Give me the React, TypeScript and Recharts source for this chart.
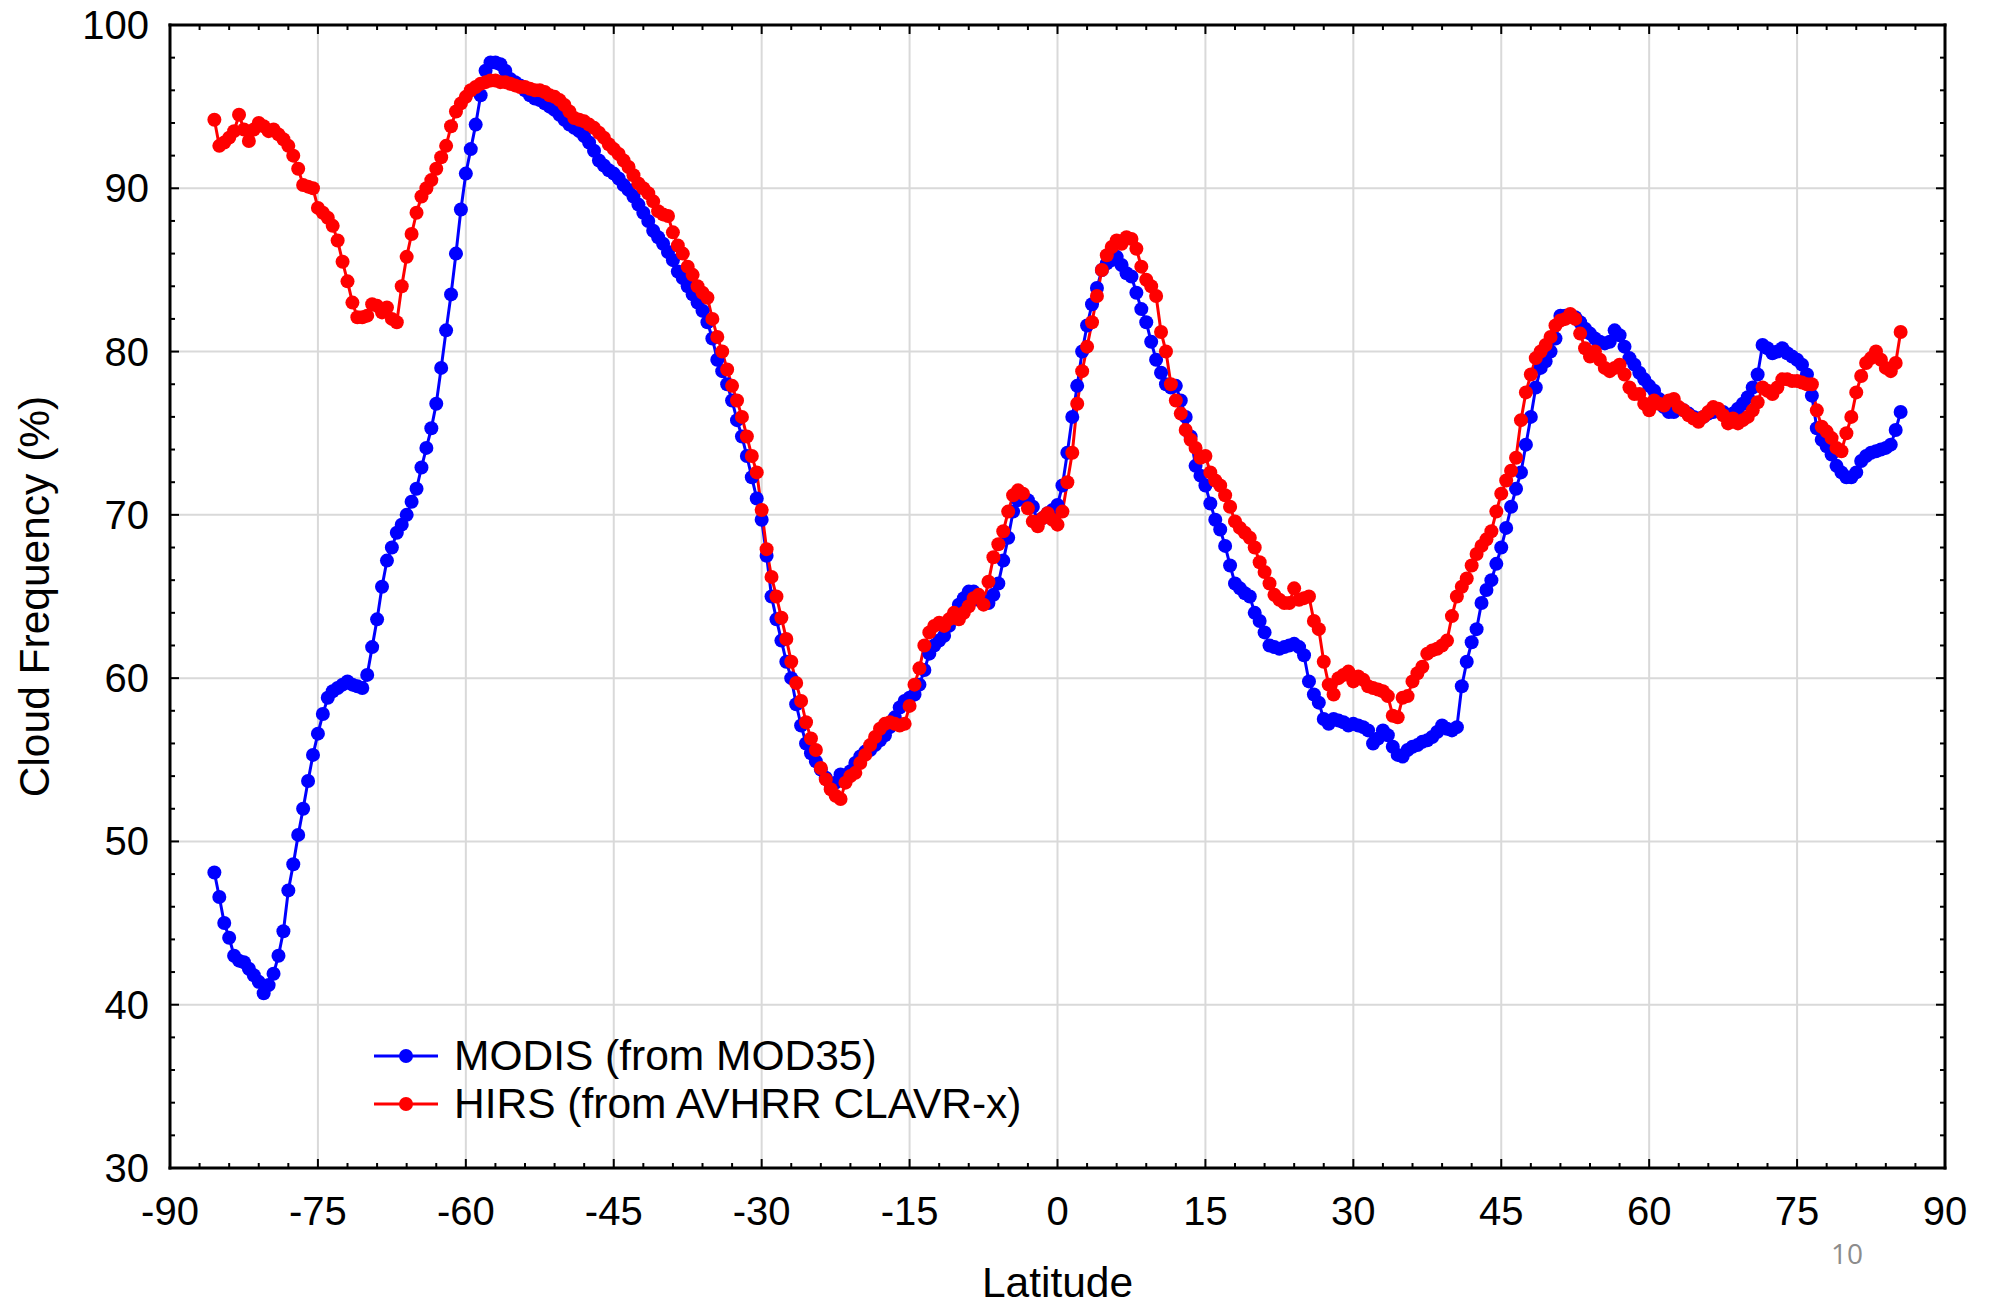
import React from "react";
import { LineChart, Line, XAxis, YAxis, CartesianGrid, Legend, Label } from "recharts";

// latitude grid of the zonal means: -85.5 .. 85.5 every half degree
const LAT_START = -85.5;
const LAT_STEP = 0.5;

// MODIS (from MOD35) cloud frequency, %, 10 values per row (5 deg)
const MODIS = [
  48.1, 46.6, 45.0, 44.1, 43.0, 42.7, 42.6, 42.2, 41.8, 41.4, // -85.5
  40.7, 41.2, 41.9, 43.0, 44.5, 47.0, 48.6, 50.4, 52.0, 53.7, // -80.5
  55.3, 56.6, 57.8, 58.8, 59.2, 59.4, 59.6, 59.8, 59.6, 59.5, // -75.5
  59.4, 60.2, 61.9, 63.6, 65.6, 67.2, 68.0, 68.9, 69.4, 70.0, // -70.5
  70.8, 71.6, 72.9, 74.1, 75.3, 76.8, 79.0, 81.3, 83.5, 86.0, // -65.5
  88.7, 90.9, 92.4, 93.9, 95.7, 97.2, 97.7, 97.7, 97.6, 97.2, // -60.5
  96.7, 96.5, 96.3, 96.0, 95.7, 95.5, 95.4, 95.2, 95.0, 94.8, // -55.5
  94.5, 94.2, 93.9, 93.7, 93.5, 93.2, 92.8, 92.3, 91.7, 91.4, // -50.5
  91.1, 90.9, 90.6, 90.2, 89.9, 89.5, 89.0, 88.5, 88.0, 87.4, // -45.5
  87.0, 86.6, 86.1, 85.6, 84.9, 84.5, 84.0, 83.5, 83.0, 82.5, // -40.5
  81.8, 80.8, 79.5, 78.8, 78.0, 77.0, 75.8, 74.8, 73.6, 72.3, // -35.5
  71.0, 69.7, 67.5, 65.0, 63.6, 62.3, 61.0, 60.0, 58.4, 57.1, // -30.5
  56.0, 55.4, 54.9, 54.4, 53.9, 53.5, 53.6, 54.1, 53.7, 54.3, // -25.5
  54.8, 55.2, 55.5, 55.6, 55.9, 56.2, 56.5, 57.0, 57.6, 58.2, // -20.5
  58.6, 58.8, 59.0, 59.6, 60.5, 61.5, 62.0, 62.3, 62.6, 63.2, // -15.5
  63.8, 64.5, 64.9, 65.3, 65.3, 64.8, 64.7, 64.6, 65.1, 65.8, // -10.5
  67.2, 68.6, 70.2, 70.9, 71.1, 70.9, 70.5, 69.6, 69.8, 70.1, // -5.5
  70.3, 70.6, 71.8, 73.8, 76.0, 77.9, 80.0, 81.6, 82.9, 83.9, // -0.5
  85.0, 85.4, 85.6, 85.8, 85.3, 84.8, 84.6, 83.6, 82.6, 81.8, // 4.5
  80.6, 79.5, 78.7, 78.0, 77.8, 77.9, 77.0, 76.0, 74.8, 73.0, // 9.5
  72.4, 71.8, 70.7, 69.7, 69.1, 68.1, 66.9, 65.8, 65.5, 65.2, // 14.5
  65.0, 64.0, 63.5, 62.8, 62.0, 61.9, 61.8, 61.9, 62.0, 62.1, // 19.5
  61.9, 61.4, 59.8, 59.0, 58.5, 57.5, 57.2, 57.5, 57.4, 57.3, // 24.5
  57.1, 57.2, 57.1, 57.0, 56.8, 56.0, 56.3, 56.8, 56.5, 55.8, // 29.5
  55.3, 55.2, 55.6, 55.8, 55.9, 56.1, 56.2, 56.4, 56.7, 57.1, // 34.5
  56.9, 56.8, 57.0, 59.5, 61.0, 62.2, 63.0, 64.6, 65.4, 66.0, // 39.5
  67.0, 68.0, 69.2, 70.5, 71.6, 72.6, 74.3, 76.0, 77.8, 79.0, // 44.5
  79.4, 80.0, 80.8, 82.2, 82.2, 82.2, 82.1, 81.8, 81.4, 81.1, // 49.5
  80.8, 80.6, 80.5, 80.6, 81.3, 81.0, 80.3, 79.6, 79.2, 78.7, // 54.5
  78.3, 77.9, 77.6, 77.1, 76.6, 76.3, 76.3, 76.5, 76.4, 76.2, // 59.5
  76.0, 75.9, 76.0, 76.2, 76.3, 76.4, 76.3, 76.0, 76.2, 76.5, // 64.5
  76.8, 77.2, 77.8, 78.6, 80.4, 80.2, 79.9, 80.0, 80.2, 79.9, // 69.5
  79.7, 79.5, 79.2, 78.6, 77.3, 75.3, 74.6, 74.2, 73.7, 73.0, // 74.5
  72.6, 72.3, 72.3, 72.6, 73.3, 73.6, 73.8, 73.9, 74.0, 74.1, // 79.5
  74.3, 75.2, 76.3, // 84.5
];

// HIRS (from AVHRR CLAVR-x) cloud frequency, %
const HIRS = [
  94.2, 92.6, 92.8, 93.1, 93.5, 94.5, 93.6, 92.9, 93.6, 94.0, // -85.5
  93.8, 93.5, 93.6, 93.3, 93.0, 92.6, 92.0, 91.2, 90.2, 90.1, // -80.5
  90.0, 88.8, 88.5, 88.2, 87.7, 86.8, 85.5, 84.3, 83.0, 82.1, // -75.5
  82.1, 82.2, 82.9, 82.8, 82.4, 82.7, 82.0, 81.8, 84.0, 85.8, // -70.5
  87.2, 88.5, 89.5, 90.0, 90.5, 91.2, 91.9, 92.6, 93.8, 94.7, // -65.5
  95.2, 95.6, 96.0, 96.2, 96.4, 96.5, 96.6, 96.6, 96.5, 96.5, // -60.5
  96.4, 96.3, 96.2, 96.2, 96.1, 96.0, 96.0, 95.9, 95.7, 95.6, // -55.5
  95.4, 95.1, 94.7, 94.3, 94.2, 94.1, 93.9, 93.7, 93.4, 93.1, // -50.5
  92.7, 92.4, 92.1, 91.7, 91.3, 90.8, 90.3, 90.0, 89.7, 89.2, // -45.5
  88.6, 88.4, 88.3, 87.3, 86.5, 86.0, 85.2, 84.7, 84.0, 83.6, // -40.5
  83.3, 82.0, 80.9, 80.0, 78.9, 77.9, 77.0, 76.0, 74.8, 73.6, // -35.5
  72.6, 70.3, 67.9, 66.2, 65.0, 63.7, 62.4, 61.0, 59.7, 58.6, // -30.5
  57.3, 56.3, 55.6, 54.5, 53.8, 53.2, 52.8, 52.6, 53.6, 54.0, // -25.5
  54.2, 54.8, 55.3, 55.9, 56.4, 56.9, 57.2, 57.3, 57.2, 57.1, // -20.5
  57.2, 58.3, 59.6, 60.6, 62.0, 62.8, 63.2, 63.4, 63.2, 63.6, // -15.5
  64.0, 63.6, 64.0, 64.4, 64.9, 65.1, 64.5, 65.9, 67.4, 68.2, // -10.5
  69.0, 70.2, 71.2, 71.5, 71.3, 70.4, 69.6, 69.3, 69.8, 70.1, // -5.5
  69.7, 69.4, 70.2, 72.0, 73.8, 76.8, 78.8, 80.3, 81.8, 83.4, // -0.5
  85.0, 85.9, 86.4, 86.8, 86.6, 87.0, 86.9, 86.3, 85.2, 84.4, // 4.5
  84.0, 83.4, 81.2, 80.0, 78.0, 77.0, 76.2, 75.2, 74.6, 74.1, // 9.5
  73.5, 73.6, 72.6, 72.1, 71.8, 71.2, 70.5, 69.6, 69.2, 68.9, // 14.5
  68.6, 68.0, 67.1, 66.5, 65.8, 65.1, 64.8, 64.6, 64.6, 65.5, // 19.5
  64.8, 64.9, 65.0, 63.5, 63.0, 61.0, 59.6, 59.0, 60.0, 60.2, // 24.5
  60.4, 59.8, 60.1, 59.9, 59.5, 59.4, 59.3, 59.2, 58.9, 57.7, // 29.5
  57.6, 58.8, 58.9, 59.8, 60.3, 60.7, 61.5, 61.7, 61.8, 62.0, // 34.5
  62.3, 63.8, 65.0, 65.6, 66.1, 66.9, 67.6, 68.1, 68.5, 69.0, // 39.5
  70.2, 71.3, 72.1, 72.7, 73.5, 75.8, 77.5, 78.6, 79.6, 80.0, // 44.5
  80.4, 80.9, 81.6, 81.9, 82.0, 82.3, 82.0, 81.1, 80.2, 79.7, // 49.5
  80.0, 79.5, 79.0, 78.8, 79.0, 79.2, 78.6, 77.8, 77.4, 77.4, // 54.5
  76.8, 76.4, 77.0, 76.8, 76.7, 77.0, 77.1, 76.6, 76.4, 76.1, // 59.5
  75.9, 75.7, 76.0, 76.3, 76.6, 76.5, 76.1, 75.6, 75.9, 75.6, // 64.5
  75.8, 76.0, 76.4, 76.9, 77.8, 77.6, 77.4, 77.8, 78.3, 78.3, // 69.5
  78.2, 78.2, 78.1, 78.0, 78.0, 76.4, 75.4, 75.1, 74.7, 74.1, // 74.5
  73.9, 75.0, 76.0, 77.5, 78.5, 79.3, 79.6, 80.0, 79.5, 79.0, // 79.5
  78.8, 79.3, 81.2, // 84.5
];

const X_MAJOR = [-90, -75, -60, -45, -30, -15, 0, 15, 30, 45, 60, 75, 90];
const Y_MAJOR = [30, 40, 50, 60, 70, 80, 90, 100];
// minor ticks: every 3 deg on x, every 2 % on y
const X_TICKS = Array.from({ length: 61 }, (_, i) => -90 + 3 * i);
const Y_TICKS = Array.from({ length: 36 }, (_, i) => 30 + 2 * i);

const SERIES_NAMES = ["MODIS (from MOD35)", "HIRS (from AVHRR CLAVR-x)"];

const FONT = "'Liberation Sans', Arial, Helvetica, sans-serif";
const BLUE = "#0000ff";
const RED = "#ff0000";

const data = MODIS.map((m, i) => ({
  lat: LAT_START + i * LAT_STEP,
  modis: m,
  hirs: HIRS[i],
}));

const isXMajor = (v: number) => v % 15 === 0;
const isYMajor = (v: number) => v % 10 === 0;

const BottomTick = ({ x, y, payload }: any) => {
  const major = isXMajor(payload.value);
  return (
    <g>
      <line x1={x} y1={y} x2={x} y2={y - (major ? 9 : 5)} stroke="#000" strokeWidth={2} />
      {major && (
        <text x={x} y={y + 43} textAnchor="middle" dominantBaseline="central" fontSize={40} fontFamily={FONT} fill="#000">
          {payload.value}
        </text>
      )}
    </g>
  );
};

const TopTick = ({ x, y, payload }: any) => {
  const major = isXMajor(payload.value);
  return <line x1={x} y1={y} x2={x} y2={y + (major ? 9 : 5)} stroke="#000" strokeWidth={2} />;
};

const LeftTick = ({ x, y, payload }: any) => {
  const major = isYMajor(payload.value);
  return (
    <g>
      <line x1={x} y1={y} x2={x + (major ? 9 : 5)} y2={y} stroke="#000" strokeWidth={2} />
      {major && (
        <text x={x - 21} y={y} textAnchor="end" dominantBaseline="central" fontSize={40} fontFamily={FONT} fill="#000">
          {payload.value}
        </text>
      )}
    </g>
  );
};

const RightTick = ({ x, y, payload }: any) => {
  const major = isYMajor(payload.value);
  return <line x1={x} y1={y} x2={x - (major ? 9 : 5)} y2={y} stroke="#000" strokeWidth={2} />;
};

const renderLegend = (props: any) => {
  // keep MODIS first, as in the original legend
  const items = [...(props.payload || [])].sort(
    (a: any, b: any) => SERIES_NAMES.indexOf(a.value) - SERIES_NAMES.indexOf(b.value)
  );
  return (
    <div style={{ fontFamily: FONT, fontSize: 42.5, color: "#000" }}>
      {items.map((entry: any) => (
        <div key={entry.value} style={{ display: "flex", alignItems: "center", height: 48 }}>
          <svg width={64} height={20}>
            <line x1={0} y1={10} x2={64} y2={10} stroke={entry.color} strokeWidth={3} />
            <circle cx={32} cy={10} r={7} fill={entry.color} />
          </svg>
          <span style={{ marginLeft: 16, lineHeight: "48px", whiteSpace: "nowrap" }}>{entry.value}</span>
        </div>
      ))}
    </div>
  );
};

const axisLine = { stroke: "#000", strokeWidth: 3, strokeLinecap: "square" as const };

export default function App() {
  return (
    <div style={{ position: "absolute", left: 0, top: 0, width: 1995, height: 1305, background: "#fff" }}>
      <LineChart width={1995} height={1305} data={data} margin={{ top: 0, right: 0, bottom: 0, left: 0 }}>
        <CartesianGrid
          xAxisId="b"
          yAxisId="l"
          stroke="#d9d9d9"
          strokeWidth={2}
          verticalValues={X_MAJOR.slice(1, -1)}
          horizontalValues={Y_MAJOR.slice(1, -1)}
        />
        <XAxis
          xAxisId="b"
          dataKey="lat"
          type="number"
          domain={[-90, 90]}
          allowDataOverflow
          ticks={X_TICKS}
          interval={0}
          height={137}
          tickSize={0}
          tickMargin={0}
          tickLine={false}
          axisLine={axisLine}
          tick={BottomTick}
        >
          <Label
            content={(p: any) => {
              const vb = p.viewBox;
              return (
                <text x={vb.x + vb.width / 2} y={vb.y + 114} textAnchor="middle" dominantBaseline="central" fontSize={42.5} fontFamily={FONT} fill="#000">
                  Latitude
                </text>
              );
            }}
          />
        </XAxis>
        <XAxis
          xAxisId="t"
          orientation="top"
          dataKey="lat"
          type="number"
          domain={[-90, 90]}
          allowDataOverflow
          ticks={X_TICKS}
          interval={0}
          height={25}
          tickSize={0}
          tickMargin={0}
          tickLine={false}
          axisLine={axisLine}
          tick={TopTick}
        />
        <YAxis
          yAxisId="l"
          type="number"
          domain={[30, 100]}
          allowDataOverflow
          ticks={Y_TICKS}
          interval={0}
          width={170}
          tickSize={0}
          tickMargin={0}
          tickLine={false}
          axisLine={axisLine}
          tick={LeftTick}
        >
          <Label
            content={(p: any) => {
              const vb = p.viewBox;
              const cx = vb.x + 34;
              const cy = vb.y + vb.height / 2;
              return (
                <text x={cx} y={cy} transform={`rotate(-90 ${cx} ${cy})`} textAnchor="middle" dominantBaseline="central" fontSize={42.5} fontFamily={FONT} fill="#000">
                  Cloud Frequency (%)
                </text>
              );
            }}
          />
        </YAxis>
        <YAxis
          yAxisId="r"
          orientation="right"
          type="number"
          domain={[30, 100]}
          allowDataOverflow
          ticks={Y_TICKS}
          interval={0}
          width={50}
          tickSize={0}
          tickMargin={0}
          tickLine={false}
          axisLine={axisLine}
          tick={RightTick}
        />
        <Line
          xAxisId="b"
          yAxisId="l"
          dataKey="modis"
          name={SERIES_NAMES[0]}
          stroke={BLUE}
          strokeWidth={3}
          dot={{ r: 7, fill: BLUE, stroke: "none" }}
          activeDot={false}
          isAnimationActive={false}
        />
        <Line
          xAxisId="b"
          yAxisId="l"
          dataKey="hirs"
          name={SERIES_NAMES[1]}
          stroke={RED}
          strokeWidth={3}
          dot={{ r: 7, fill: RED, stroke: "none" }}
          activeDot={false}
          isAnimationActive={false}
        />
        <Legend
          layout="vertical"
          align="center"
          verticalAlign="middle"
          content={renderLegend}
          wrapperStyle={{ position: "absolute", left: 374, top: 1032, width: 760, height: 96 }}
        />
      </LineChart>
      <div
        style={{
          position: "absolute",
          left: 1831,
          top: 1234,
          fontFamily: "'Open Sans', 'Liberation Sans', sans-serif",
          fontSize: 28,
          color: "#8c8c8c",
        }}
      >
        10
      </div>
    </div>
  );
}
